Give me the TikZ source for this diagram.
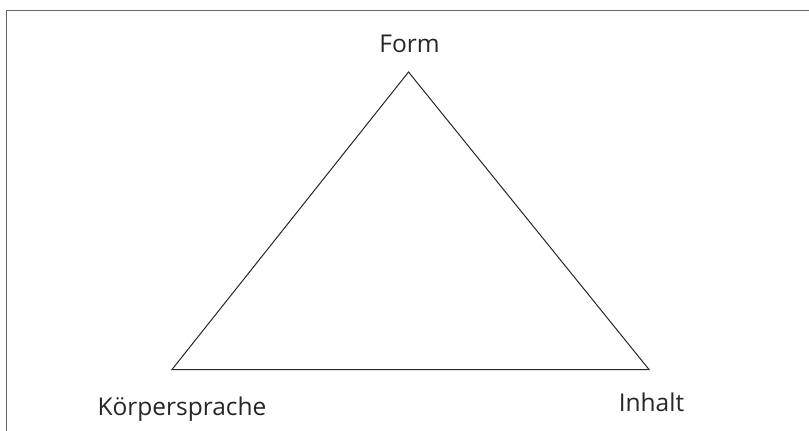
\documentclass[tikz,border=0pt]{standalone}
\usepackage{fontspec}
\setmainfont{Open Sans}
\begin{document}
\begin{tikzpicture}[x=1pt,y=-1pt,
  lbl/.style={font=\fontsize{24.5}{28}\selectfont, text=black!85, inner sep=0pt, anchor=base},
  tri/.style={draw=black!85, line width=1pt},
  frame/.style={draw=black!60, line width=1.5pt}]
\useasboundingbox (0,0) rectangle (809,431);
\coordinate (fl) at (6.5,431);
\coordinate (ftl) at (6.5,10.5);
\coordinate (ftr) at (809,10.5);
\draw[frame] (fl) -- (ftl) -- (ftr);
\coordinate (top) at (408.5,72);
\coordinate (bl) at (172,369.5);
\coordinate (br) at (649,369.5);
\draw[tri, line join=miter] (top) -- (br) -- (bl) -- cycle;
\node[lbl] (form) at (409.5,52) {Form};
\node[lbl] (kp) at (182,415) {Körpersprache};
\node[lbl] (inh) at (651.5,411) {Inhalt};
\end{tikzpicture}
\end{document}
